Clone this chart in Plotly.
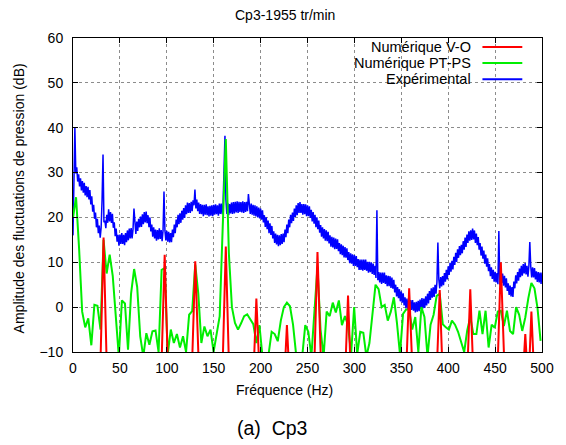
import plotly.graph_objects as go

# --- Experimental spectrum, 1 Hz resolution (dB), one row per 20 Hz ---
freq_exp = list(range(0, 501))
exp_db = [
    16.0, 30.0, 40.0, 29.8, 31.2, 28.0, 29.6, 26.9, 28.7, 26.0, 28.1, 25.5, 27.7, 24.9, 27.0, 24.5, 26.8, 24.0, 26.1, 22.9,
    24.7, 21.3, 22.8, 19.7, 21.1, 17.8, 19.7, 16.5, 18.2, 15.5, 17.7, 24.0, 34.0, 18.9, 19.3, 17.6, 20.6, 18.8, 21.8, 19.1,
    21.2, 18.8, 20.8, 17.7, 18.9, 15.8, 17.5, 14.6, 16.1, 13.7, 16.2, 14.1, 16.5, 14.1, 16.1, 13.8, 16.5, 14.5, 17.1, 14.9,
    17.5, 15.3, 17.6, 15.3, 17.4, 22.0, 18.0, 16.3, 19.1, 17.0, 19.7, 17.8, 20.2, 17.9, 20.7, 18.5, 21.2, 18.9, 21.3, 18.7,
    20.5, 17.8, 20.0, 16.9, 18.4, 15.7, 17.8, 15.3, 17.3, 14.8, 17.2, 15.1, 17.6, 15.2, 17.2, 14.7, 17.1, 25.8, 17.1, 14.9,
    17.0, 14.6, 16.8, 14.4, 16.5, 14.5, 17.3, 15.6, 18.4, 16.5, 19.5, 17.8, 20.6, 18.5, 20.9, 18.8, 21.5, 19.5, 22.1, 19.9,
    22.7, 20.7, 23.3, 21.0, 23.2, 21.0, 23.5, 21.4, 23.8, 22.7, 26.2, 22.0, 24.0, 21.4, 23.3, 20.8, 23.0, 20.7, 22.8, 20.3,
    22.8, 20.6, 22.9, 20.5, 22.5, 20.2, 22.6, 20.4, 22.7, 20.3, 22.8, 20.6, 22.9, 20.7, 22.7, 20.4, 23.1, 20.8, 23.1, 20.7,
    23.0, 30.0, 38.2, 24.0, 20.8, 23.2, 20.5, 23.0, 20.9, 23.3, 20.8, 23.4, 20.9, 23.5, 21.1, 23.6, 21.0, 23.5, 21.2, 23.4,
    21.1, 23.6, 21.0, 23.4, 21.2, 23.5, 21.4, 25.2, 22.0, 20.8, 23.1, 20.6, 22.8, 20.4, 22.7, 20.2, 22.5, 20.0, 22.2, 19.8,
    22.0, 19.5, 21.6, 18.9, 20.5, 17.9, 20.0, 17.4, 19.3, 16.5, 18.7, 16.1, 18.1, 15.3, 16.9, 14.3, 16.4, 14.0, 16.1, 13.6,
    16.0, 13.8, 16.3, 14.1, 16.4, 14.5, 17.3, 15.6, 18.4, 16.5, 19.5, 17.8, 20.6, 18.7, 21.1, 19.2, 22.0, 20.1, 22.7, 20.5,
    23.2, 21.0, 23.4, 21.0, 23.0, 20.6, 23.0, 20.7, 22.9, 20.3, 22.7, 20.3, 22.5, 19.9, 21.7, 19.1, 21.2, 18.6, 20.6, 17.8,
    20.0, 17.4, 19.3, 16.6, 18.3, 15.7, 17.8, 15.3, 17.4, 14.8, 17.1, 14.7, 16.8, 14.2, 16.0, 13.5, 15.7, 13.3, 15.5, 12.9,
    15.3, 13.0, 15.1, 12.5, 14.3, 11.8, 14.0, 11.6, 13.7, 11.1, 13.4, 11.0, 13.1, 10.5, 12.3, 9.8, 12.0, 9.7, 11.8, 9.2,
    11.6, 9.2, 11.4, 8.9, 10.7, 8.3, 10.6, 8.3, 10.6, 8.1, 10.6, 8.3, 10.6, 8.1, 10.1, 7.7, 10.1, 7.8, 10.0, 7.4,
    9.7, 7.2, 9.2, 6.5, 21.6, 6.0, 7.8, 5.5, 7.7, 5.2, 7.7, 5.4, 7.7, 5.2, 7.1, 4.7, 7.0, 4.7, 6.9, 4.3,
    6.6, 4.1, 6.1, 3.3, 5.0, 2.4, 4.5, 2.0, 4.0, 1.3, 3.5, 1.0, 3.1, 0.4, 2.2, -0.3, 1.9, -0.4, 1.7, -0.8,
    1.6, -0.6, 1.6, -0.8, 1.1, -1.2, 1.2, -1.0, 1.4, -0.9, 1.7, -0.4, 2.0, -0.3, 1.9, -0.2, 2.4, 0.4, 3.0, 0.8,
    3.6, 1.6, 4.2, 2.1, 4.4, 2.3, 5.0, 3.0, 5.6, 14.4, 6.2, 4.2, 6.7, 4.6, 6.9, 4.9, 7.6, 5.7, 8.3, 6.2,
    9.1, 7.2, 9.9, 7.9, 10.3, 8.4, 11.2, 9.4, 12.1, 10.1, 12.9, 11.0, 13.6, 11.6, 13.9, 12.0, 14.7, 12.8, 15.5, 13.4,
    16.2, 14.3, 16.9, 14.8, 17.1, 15.0, 17.5, 15.1, 17.1, 14.3, 16.4, 13.8, 15.6, 12.8, 14.3, 11.5, 13.5, 10.8, 12.6, 9.7,
    11.7, 9.0, 10.9, 8.0, 9.6, 6.9, 8.9, 6.3, 8.3, 5.7, 7.9, 5.5, 7.6, 5.1, 17.0, 5.0, 7.6, 5.4, 7.5, 4.8,
    7.0, 4.4, 6.4, 3.6, 5.3, 2.7, 4.8, 2.4, 4.5, 2.3, 5.7, 4.2, 7.1, 5.3, 7.8, 5.9, 8.6, 6.7, 9.2, 7.0,
    9.6, 7.5, 9.8, 7.3, 9.2, 6.8, 9.1, 14.5, 9.1, 6.6, 8.9, 6.6, 8.7, 6.2, 8.0, 5.6, 7.8, 5.5, 7.7, 5.2,
    7.7,
]

# --- Numerical spectra, frequency resolution of one tenth of the rotation frequency ---
DF_NUM = 3.258  # Hz

pt_ps_db = [
    20.0, 24.5, 13.0, -1.0, -4.5, -2.5, -8.5, 0.5, 0.3, -5.0,
    15.0, 7.5, 11.7, 7.0, -2.0, -11.0, 1.5, 0.8, -9.5, 3.0,
    8.5, 4.5, -6.5, -11.0, -5.8, -8.4, -5.4, -5.2, -10.0, 8.3,
    8.7, -10.5, -5.0, -8.0, -6.0, -9.0, -6.5, -10.0, -1.7, -0.9,
    9.5, 3.0, -8.0, -4.3, -6.5, -5.0, -10.0, -6.0, -2.0, 18.0,
    37.5, 12.0, 0.0, -3.5, -5.0, -3.6, -2.0, -1.6, -2.6, -3.8,
    -8.0, -4.0, -11.0, -12.0, -10.5, -5.5, -6.0, -7.6, -3.0, 0.0,
    1.0, 0.2, -3.9, -10.5, -12.0, -11.0, -4.0, -5.5, -11.0, -2.0,
    9.0, -5.0, -11.0, -1.0, -2.0, 1.0, -1.2, 1.5, -4.0, -2.0,
    -4.0, -10.5, 0.0, -10.5, -5.5, -5.7, -11.0, -8.0, -1.5, 5.0,
    4.0, 0.0, 0.5, -3.0, -1.0, 2.2, -3.5, -10.5, -1.5, -0.5,
    -0.5, -5.0, -2.2, -10.0, 0.0, -2.2, -11.0, -3.9, -1.7, 2.5,
    3.0, -3.8, -4.5, -5.0, -3.0, -3.9, -5.5, -7.5, -10.0, -5.2,
    -2.2, -6.0, -6.0, -0.8, -6.0, -0.8, -9.0, -3.9, -4.6, -1.0,
    -0.8, -4.2, -0.8, -5.3, -6.0, 0.0, -1.7, -5.3, -2.3, 2.0,
    5.4, 4.2, -0.2, -7.5,
]

v_o_db = [
    -30, -28, -33, -27, -31, -26, -34, -29, -24, -12,
    15.5, -12, -28, -32, -26, -35, -30, -27, -33, -29,
    -31, -26, -34, -28, -30, -25, -33, -29, -27, -12,
    11.7, -12, -29, -33, -27, -31, -26, -34, -28, -12,
    10.2, -12, -30, -27, -33, -29, -26, -32, -28, -12,
    13.5, -12, -29, -33, -27, -31, -28, -34, -26, -16,
    1.9, -17, -30, -27, -33, -29, -26, -31, -28, -18,
    -4.0, -18, -29, -33, -27, -30, -26, -32, -29, -12,
    12.3, -12, -31, -28, -33, -27, -30, -26, -32, -16,
    2.6, -17, -29, -33, -27, -31, -26, -34, -28, -30,
    -27, -32, -29, -33, -26, -30, -28, -31, -27, -15,
    4.2, -15, -30, -27, -33, -29, -26, -32, -28, -15,
    3.8, -16, -30, -28, -33, -27, -31, -26, -29, -15,
    4.0, -15, -29, -33, -27, -31, -26, -34, -28, -12,
    10.0, -12, -30, -27, -33, -29, -26, -18, -6.0, -18,
    -1.0, -17, -30, -28,
]

freq_num = [round(k * DF_NUM, 3) for k in range(len(pt_ps_db))]

series_labels = ["Numérique V-O", "Numérique PT-PS", "Expérimental"]
series_colors = ["#ff0000", "#00ee00", "#0000ff"]

x_ticks = list(range(0, 501, 50))
y_ticks = list(range(-10, 61, 10))

FONT = "Liberation Sans, Arial, Helvetica, sans-serif"

fig = go.Figure()
fig.add_trace(go.Scatter(x=freq_exp, y=exp_db, mode="lines", name=series_labels[2],
                         line=dict(color=series_colors[2], width=1.5)))
fig.add_trace(go.Scatter(x=freq_num, y=pt_ps_db, mode="lines", name=series_labels[1],
                         line=dict(color=series_colors[1], width=2)))
fig.add_trace(go.Scatter(x=freq_num, y=v_o_db, mode="lines", name=series_labels[0],
                         line=dict(color=series_colors[0], width=2)))

axis_common = dict(
    ticks="inside", ticklen=5, tickcolor="black", mirror="ticks",
    showline=True, linecolor="black", linewidth=1,
    showgrid=True, gridcolor="#8c8c8c", gridwidth=1, griddash="dot",
    zeroline=False, tickfont=dict(family=FONT, size=14, color="black"),
)
fig.update_xaxes(range=[0, 500], tickvals=x_ticks, ticklabelstandoff=3, **axis_common)
fig.update_yaxes(range=[-10, 60], tickvals=y_ticks, ticklabelstandoff=6, **axis_common)

# key box (hides the grid underneath), gnuplot-style: text then sample line
rows_y = [0.971, 0.920, 0.869]
shapes = [dict(type="rect", xref="paper", yref="paper", x0=0.5625, x1=0.978, y0=0.842, y1=1.0,
               fillcolor="white", line=dict(width=0), layer="between")]
annotations = []
for label, color, yy in zip(series_labels, series_colors, rows_y):
    shapes.append(dict(type="line", xref="paper", yref="paper", x0=0.873, x1=0.958,
                       y0=yy, y1=yy, line=dict(color=color, width=2)))
    annotations.append(dict(text=label, xref="paper", yref="paper", x=0.852, y=yy,
                            xanchor="right", yanchor="middle", showarrow=False,
                            font=dict(family=FONT, size=14.5, color="black")))

annotations += [
    dict(text="Cp3-1955 tr/min", xref="paper", yref="paper", x=0.452, y=1.0745,
         xanchor="center", yanchor="middle", showarrow=False,
         font=dict(family=FONT, size=14, color="black")),
    dict(text="Fréquence (Hz)", xref="paper", yref="paper", x=0.45, y=-0.121,
         xanchor="center", yanchor="middle", showarrow=False,
         font=dict(family=FONT, size=14, color="black")),
    dict(text="Amplitude des fluctuations de pression (dB)", xref="paper", yref="paper",
         x=-0.1146, y=0.49, xanchor="center", yanchor="middle", textangle=-90,
         showarrow=False, font=dict(family=FONT, size=14, color="black")),
    dict(text="(a)  Cp3", xref="paper", yref="paper", x=0.425, y=-0.242,
         xanchor="center", yanchor="middle", showarrow=False,
         font=dict(family=FONT, size=19.5, color="black")),
]

fig.update_layout(
    width=566, height=445,
    margin=dict(l=73, r=13, t=38, b=93, pad=0),
    paper_bgcolor="white", plot_bgcolor="white",
    showlegend=False,
    shapes=shapes, annotations=annotations,
)

fig.write_html("out.html")
